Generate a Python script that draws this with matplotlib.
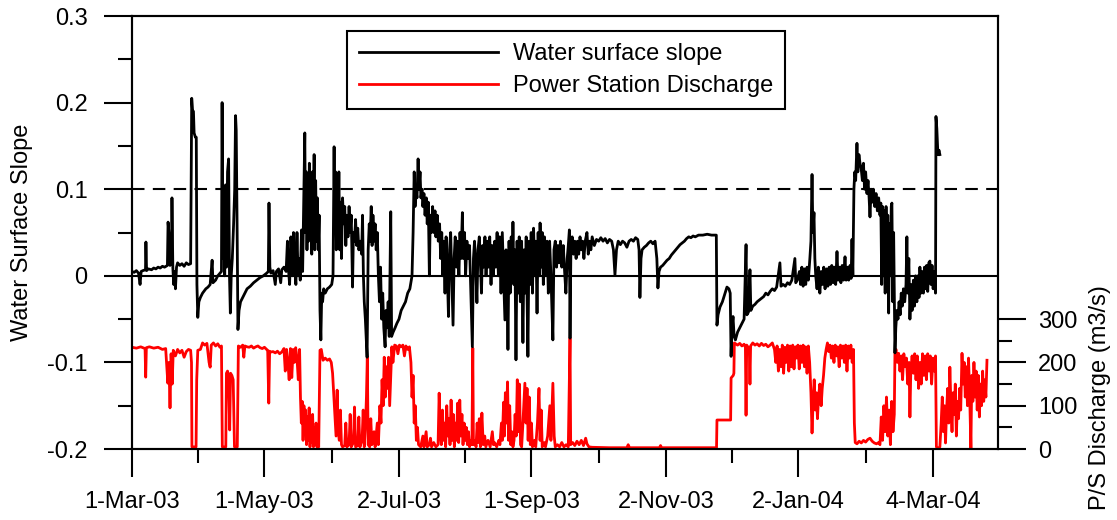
import numpy as np
import matplotlib
matplotlib.use("Agg")
import matplotlib.pyplot as plt
import matplotlib.dates as mdates
from matplotlib.ticker import FixedLocator

plt.rcParams['font.family'] = ['Liberation Sans', 'DejaVu Sans']

start = np.datetime64('2003-03-01')

# water surface slope: (days after 1-Mar-03, slope)
slope_pts = [
    (0, 0.005), (1, 0.004), (2, 0.006), (3, 0.003), (3.7, -0.01), (4.2, 0.005), (5, 0.006), (6.2, 0.007),
    (6.4, 0.039), (6.7, 0.006), (7.5, 0.008), (9, 0.007), (10, 0.009), (11, 0.008), (12, 0.01), (13, 0.009),
    (14, 0.011), (15, 0.01), (16.3, 0.012), (16.6, 0.062), (17, 0.05), (17.5, 0.012), (18.2, 0.02), (18.4, 0.09),
    (18.8, 0.01), (19.2, -0.01), (19.6, 0.005), (20, -0.015), (20.5, 0.01), (21, 0.015), (22, 0.012), (23, 0.014),
    (24, 0.011), (25, 0.015), (26, 0.013), (27, 0.014), (27.5, 0.205), (27.9, 0.19), (28.3, 0.19), (28.6, 0.165),
    (29.2, 0.16), (29.6, 0.16), (29.9, -0.01), (30.3, -0.048), (30.8, -0.03), (31.5, -0.025), (32.5, -0.02),
    (34, -0.015), (35, -0.013), (36, -0.01), (36.9, 0.018), (37.3, -0.008), (38.5, -0.005), (39.5, 0.0),
    (40.5, 0.003), (41.2, 0.005), (41.5, 0.2), (41.9, 0.02), (42.3, 0.07), (42.7, 0.0), (43.1, 0.105),
    (43.5, 0.01), (44.0, 0.12), (44.5, 0.135), (44.9, 0.0), (45.3, -0.043), (45.7, 0.0), (46.2, 0.02),
    (46.8, 0.06), (47.3, 0.1), (47.7, 0.185), (48.0, 0.168), (48.4, 0.06), (48.8, -0.062), (49.3, -0.04),
    (50, -0.03), (51, -0.025), (52, -0.02), (53, -0.015), (54.5, -0.012), (56, -0.008), (57.5, -0.005),
    (59, -0.002), (60.5, 0.0), (62, 0.003), (62.8, 0.005), (63.1, 0.084), (63.5, 0.01), (64, 0.003),
    (65, 0.006), (66, -0.01), (66.5, 0.005), (67.5, 0.008), (68.5, -0.008), (69, 0.007), (70, 0.01),
    (71, 0.005), (71.6, 0.04), (72, 0.01), (72.6, -0.01), (73.2, 0.045), (73.8, 0.0), (74.4, 0.05),
    (75, 0.005), (75.5, -0.01), (76, 0.05), (76.5, 0.0), (77, 0.02), (77.5, -0.005), (78.1, 0.053),
    (78.6, 0.005), (79.2, 0.1), (79.6, 0.165), (79.9, 0.05), (80.3, 0.12), (80.6, 0.03), (81, 0.11),
    (81.3, 0.04), (81.7, 0.13), (82, 0.06), (82.4, 0.1), (82.8, 0.025), (83.1, 0.12), (83.5, 0.05),
    (83.9, 0.14), (84.2, 0.03), (84.6, 0.11), (85, 0.04), (85.4, 0.09), (85.8, 0.03), (86.2, 0.07),
    (86.6, -0.04), (87, -0.074), (87.4, -0.02), (87.8, -0.03), (88.3, -0.015), (89, -0.02), (90, -0.015),
    (91, -0.013), (92, -0.01), (92.6, 0.0), (93.1, 0.149), (93.4, 0.05), (93.8, 0.12), (94.1, 0.03),
    (94.5, 0.1), (94.9, 0.04), (95.3, 0.12), (95.7, 0.03), (96.1, 0.085), (96.5, 0.02), (97, 0.09),
    (97.5, 0.06), (98, 0.08), (98.5, 0.035), (99, 0.07), (99.5, 0.045), (100, 0.08), (100.5, 0.05),
    (101, 0.07), (101.6, -0.013), (102, 0.05), (102.5, 0.04), (103, 0.065), (103.5, 0.035), (104, 0.055),
    (104.5, 0.03), (105.2, 0.04), (105.8, 0.025), (106.2, 0.07), (106.6, 0.0), (107, -0.03), (107.5, -0.05),
    (108.3, -0.094), (108.8, 0.03), (109.3, 0.06), (109.7, 0.04), (110.2, 0.08), (110.6, 0.035), (111, 0.07),
    (111.5, 0.04), (112, 0.06), (112.5, 0.03), (113, 0.05), (113.5, 0.0), (114, -0.03), (114.5, 0.01),
    (115, -0.05), (115.5, -0.02), (116, -0.06), (116.6, -0.082), (117, -0.04), (117.5, -0.06), (118, -0.03),
    (118.5, -0.07), (119.2, 0.074), (119.6, -0.07), (120.3, -0.065), (121.2, -0.06), (122, -0.055),
    (123, -0.05), (124, -0.04), (125, -0.035), (126, -0.03), (127, -0.02), (128, -0.015), (129, 0.0),
    (129.5, 0.05), (130, 0.12), (130.4, 0.08), (130.8, 0.1), (131.3, 0.09), (131.8, 0.135), (132.2, 0.1),
    (132.7, 0.12), (133.1, 0.09), (133.6, 0.1), (134, 0.08), (134.5, 0.095), (135, 0.07), (135.6, 0.09),
    (136, 0.06), (136.5, 0.085), (137, 0.0), (137.4, 0.07), (137.9, 0.05), (138.5, 0.08), (139, 0.05),
    (139.6, 0.075), (140, 0.045), (140.6, 0.07), (141.1, 0.04), (141.7, 0.06), (142.2, 0.02), (142.7, 0.05),
    (143.2, 0.0), (143.6, 0.04), (144.2, -0.02), (144.7, 0.045), (145.2, 0.01), (145.8, -0.047), (146.3, 0.03),
    (146.8, 0.05), (147.3, 0.0), (147.9, -0.057), (148.4, 0.02), (148.9, 0.045), (149.5, 0.01), (150, 0.04),
    (150.6, 0.0), (151.1, 0.05), (151.6, 0.02), (152.2, 0.073), (152.6, 0.02), (153.2, 0.05), (153.7, 0.0),
    (154.3, 0.04), (154.9, 0.02), (155.5, 0.035), (156.2, -0.03), (156.8, -0.082), (157.3, 0.02), (157.8, 0.04),
    (158.3, 0.015), (158.9, -0.031), (159.4, 0.03), (160, 0.045), (160.5, 0.015), (161, -0.02), (161.5, 0.035),
    (162, 0.01), (162.6, 0.045), (163.1, 0.0), (163.7, 0.04), (164.2, 0.01), (164.8, 0.045), (165.4, -0.01),
    (165.9, 0.035), (166.5, 0.0), (167.1, 0.04), (167.6, 0.01), (168.2, 0.05), (168.8, 0.0), (169.4, 0.045),
    (170, -0.02), (170.6, 0.05), (171.2, 0.0), (171.8, -0.051), (172.3, 0.03), (172.8, 0.0), (173.2, -0.085),
    (173.7, 0.04), (174.2, -0.02), (174.7, 0.045), (175.2, 0.0), (175.5, 0.062), (175.9, -0.01), (176.4, 0.03),
    (176.9, -0.097), (177.4, 0.04), (177.9, -0.02), (178.4, 0.045), (178.9, -0.03), (179.5, 0.04),
    (180.1, -0.077), (180.6, 0.03), (181.1, -0.02), (181.6, 0.045), (182.4, -0.093), (182.9, 0.04),
    (183.4, -0.01), (183.9, 0.05), (184.5, -0.02), (185, 0.055), (185.6, 0.0), (186.1, 0.04), (186.6, -0.043),
    (187.1, 0.05), (187.6, 0.0), (188, 0.061), (188.5, 0.01), (189, 0.05), (189.5, -0.01), (190, 0.045),
    (190.6, 0.0), (191.2, 0.04), (191.8, -0.02), (192.4, 0.04), (193, 0.0), (193.9, -0.074), (194.4, 0.03),
    (195, 0.04), (195.6, 0.01), (196.2, 0.035), (196.8, 0.015), (197.4, 0.04), (198, 0.01), (198.7, 0.035),
    (199.3, 0.005), (199.9, -0.02), (200.5, 0.02), (201, 0.035), (201.5, 0.053), (201.8, -0.072), (202.2, 0.03),
    (202.8, 0.045), (203.4, 0.025), (204, 0.04), (204.6, 0.02), (205.2, 0.04), (205.8, 0.025), (206.4, 0.045),
    (207, 0.03), (207.6, 0.04), (208.2, 0.02), (208.8, 0.04), (209.6, 0.05), (210.2, 0.025), (210.8, 0.04),
    (211.4, 0.03), (212, 0.045), (213, 0.035), (214, 0.042), (215, 0.04), (216, 0.044), (217, 0.04),
    (218, 0.043), (219, 0.038), (220, 0.042), (221, 0.04), (221.8, 0.03), (222.5, 0.001), (223.2, 0.03),
    (224, 0.04), (225, 0.036), (226, 0.04), (227, 0.038), (228, 0.033), (229, 0.04), (230, 0.042), (231, 0.04),
    (232, 0.044), (233, 0.042), (233.6, 0.03), (234, -0.025), (234.5, 0.02), (235, 0.03), (236, 0.033),
    (237, 0.035), (238, 0.038), (239, 0.04), (240, 0.037), (241, 0.04), (241.8, 0.02), (242.3, -0.014),
    (242.8, 0.005), (243.5, 0.01), (244.5, 0.012), (245.5, 0.015), (246.5, 0.018), (247.5, 0.02),
    (248.5, 0.024), (249.5, 0.027), (250.5, 0.03), (251.5, 0.033), (252.5, 0.036), (253.5, 0.038),
    (254.5, 0.04), (255.5, 0.043), (256.5, 0.045), (257.5, 0.044), (258.5, 0.046), (259.5, 0.045),
    (261, 0.047), (263, 0.047), (265, 0.048), (267, 0.047), (269.2, 0.047), (269.5, -0.057), (270, -0.045),
    (270.9, -0.036), (272, -0.03), (273, -0.022), (274.1, -0.013), (275, -0.015), (275.6, -0.02),
    (276, -0.093), (276.4, -0.06), (276.9, -0.047), (277.4, -0.07), (278, -0.074), (279, -0.065), (280, -0.06),
    (281, -0.055), (282, -0.05), (282.9, 0.036), (283.3, -0.045), (284, -0.042), (284.7, 0.007), (285.1, -0.04),
    (286, -0.035), (287, -0.033), (288, -0.03), (289, -0.028), (290, -0.026), (291, -0.024), (292, -0.02),
    (293, -0.022), (294, -0.018), (295, -0.015), (296, -0.017), (297, -0.013), (298.5, 0.015), (299, -0.012),
    (300, -0.01), (301, -0.012), (302, -0.008), (303, -0.01), (304, -0.005), (305.4, 0.02), (305.8, -0.008),
    (306.5, -0.005), (307.5, 0.005), (308, -0.01), (308.6, 0.01), (309.2, -0.012), (309.8, 0.008),
    (310.4, -0.01), (311, 0.01), (311.6, -0.005), (312.3, 0.02), (312.8, 0.04), (313.3, 0.117), (313.7, 0.05),
    (314.2, 0.073), (314.6, 0.02), (315, 0.0), (315.6, -0.015), (316.2, 0.01), (316.9, -0.02), (317.5, 0.005),
    (318.1, -0.01), (318.7, 0.01), (319.3, -0.015), (320, 0.008), (320.6, -0.012), (321.2, 0.01),
    (321.8, -0.01), (322.4, 0.012), (323, -0.008), (323.6, 0.01), (324.2, -0.01), (324.8, 0.028),
    (325.3, -0.005), (326, 0.01), (326.6, -0.008), (327.2, 0.012), (327.8, -0.005), (328.5, 0.022),
    (329, -0.005), (329.6, 0.01), (330.2, -0.005), (330.8, 0.012), (331.3, -0.003), (331.7, 0.042),
    (332.1, 0.0), (332.6, 0.1), (333, 0.12), (333.4, 0.11), (334, 0.153), (334.4, 0.12), (334.9, 0.14),
    (335.4, 0.13), (335.9, 0.125), (336.5, 0.11), (337, 0.13), (337.5, 0.1), (338, 0.12), (338.6, 0.095),
    (339.1, 0.11), (339.6, 0.09), (340, 0.068), (340.5, 0.1), (341, 0.085), (341.6, 0.1), (342.2, 0.08),
    (342.8, 0.095), (343.4, 0.075), (344, 0.09), (344.6, 0.07), (345, 0.084), (345.4, -0.01), (345.8, 0.08),
    (346.2, 0.0), (346.6, 0.075), (347, -0.02), (347.4, 0.08), (347.8, 0.01), (348.2, 0.07), (348.6, -0.043),
    (349, 0.06), (349.4, 0.0), (349.8, 0.08), (350.1, 0.084), (350.5, -0.03), (350.9, 0.05), (351.5, -0.089),
    (351.9, -0.06), (352.4, -0.04), (352.9, -0.05), (353.4, -0.03), (353.9, -0.045), (354.4, -0.02),
    (354.9, -0.035), (355.4, -0.015), (356, -0.03), (356.6, -0.01), (357, 0.045), (357.4, -0.02),
    (357.9, 0.02), (358.4, -0.05), (358.9, -0.01), (359.4, -0.04), (360, -0.005), (360.5, -0.035),
    (361, 0.0), (361.6, -0.03), (362.1, 0.0), (362.6, -0.025), (363, 0.01), (363.5, -0.02), (364, 0.005),
    (364.6, -0.02), (365.1, 0.01), (365.6, -0.015), (366.1, 0.012), (366.6, -0.018), (367.1, 0.015),
    (367.6, 0.017), (368.1, -0.01), (368.6, 0.012), (369.1, -0.015), (369.6, 0.005), (370.2, -0.02),
    (370.4, 0.184), (370.8, 0.17), (371.3, 0.14), (371.8, 0.145), (372.2, 0.14),
]

# power station discharge, m3/s: (days after 1-Mar-03, flow)
flow_pts = [
    (0, 235), (2, 233), (4, 236), (6, 232), (6.3, 166), (6.6, 234), (8, 236), (10, 233), (12, 235), (14, 230),
    (15.5, 232), (16, 190), (16.5, 152), (17, 200), (17.5, 95), (18, 220), (18.5, 150), (19, 228), (20, 215),
    (21, 230), (22, 222), (23, 228), (24, 212), (25, 225), (26, 230), (27, 228), (27.4, 200), (27.6, 5),
    (29.5, 5), (29.8, 160), (30.3, 228), (31.5, 230), (32.5, 245), (33.5, 240), (34.5, 244), (35.5, 200),
    (36, 189), (36.5, 240), (37.5, 245), (38.5, 238), (39.5, 243), (40.5, 235), (41.2, 238), (41.6, 5),
    (43.2, 5), (43.5, 175), (44, 180), (44.5, 165), (45, 44), (45.4, 175), (46, 170), (46.6, 160), (47.2, 5),
    (48.5, 5), (49, 238), (50, 235), (51, 240), (51.5, 212), (52, 238), (53, 236), (54, 235), (55, 238),
    (56, 233), (57, 236), (58, 238), (59, 234), (60, 232), (61, 235), (62, 230), (62.5, 228), (63, 106),
    (63.4, 226), (64, 224), (65, 225), (66, 222), (67, 226), (68, 220), (69, 224), (70, 232), (70.6, 180),
    (71.2, 230), (71.8, 200), (72.4, 160), (73, 232), (73.6, 165), (74.2, 230), (74.8, 200), (75.4, 234),
    (76, 210), (76.6, 160), (77.2, 230), (77.6, 120), (78, 60), (78.4, 110), (78.8, 20), (79.2, 100),
    (79.6, 40), (80, 90), (80.4, 10), (80.8, 75), (81.2, 20), (81.6, 95), (82, 5), (82.4, 60), (82.8, 15),
    (83.2, 80), (83.6, 5), (84, 50), (84.4, 10), (84.8, 60), (85.2, 5), (85.6, 40), (86, 5), (86.6, 228),
    (87.2, 230), (88, 205), (89, 210), (90, 205), (91, 208), (91.8, 200), (92.4, 175), (93, 120), (93.5, 78),
    (94, 30), (94.5, 136), (95, 40), (95.5, 20), (96, 90), (96.5, 10), (97, 5), (98, 8), (98.5, 60), (99, 5),
    (100, 10), (100.5, 80), (101, 5), (102, 15), (102.5, 97), (103, 5), (104, 8), (104.5, 74), (105, 5),
    (106, 20), (106.5, 90), (107, 5), (107.6, 60), (108, 120), (108.4, 212), (108.8, 10), (109.5, 5),
    (110, 70), (110.5, 10), (111.5, 40), (112, 5), (113, 60), (113.5, 10), (114.2, 100), (114.7, 60),
    (115.2, 160), (115.7, 100), (116.2, 212), (116.7, 120), (117.2, 190), (117.7, 140), (118.2, 212),
    (118.7, 100), (119.2, 170), (119.7, 236), (120.2, 200), (121, 240), (121.8, 238), (122.5, 220),
    (123.2, 240), (124, 236), (124.8, 240), (125.5, 215), (126.2, 238), (127, 230), (127.8, 236),
    (128.5, 200), (129, 120), (129.5, 170), (130, 60), (130.5, 100), (131, 20), (131.5, 50), (132, 10),
    (133, 5), (134, 30), (134.5, 5), (135.5, 40), (136, 5), (137, 10), (137.5, 25), (138, 5), (139, 15),
    (140, 5), (141, 10), (141.5, 129), (142, 40), (142.5, 10), (143, 90), (143.5, 20), (144, 60), (144.5, 5),
    (145, 100), (145.5, 30), (146, 70), (146.5, 10), (147, 113), (147.5, 20), (148, 80), (148.5, 5),
    (149, 60), (149.5, 20), (150, 106), (150.5, 15), (151, 113), (151.5, 30), (152, 80), (152.5, 10),
    (153, 60), (153.5, 20), (154, 50), (154.5, 10), (155, 40), (155.5, 5), (156, 20), (156.6, 10),
    (157, 233), (157.3, 10), (158, 20), (158.5, 5), (159, 60), (159.5, 15), (160, 70), (160.5, 5),
    (161.2, 83), (161.8, 10), (162.5, 30), (163, 5), (164, 20), (165, 5), (166, 40), (166.5, 10), (167, 15),
    (168, 5), (169, 20), (169.5, 10), (170.2, 60), (170.6, 20), (171.2, 108), (171.6, 30), (172, 130),
    (172.5, 60), (173, 155), (173.5, 20), (174, 100), (174.5, 10), (175, 40), (175.5, 5), (176, 20),
    (176.5, 80), (177, 30), (177.5, 160), (178, 40), (178.5, 150), (179, 10), (179.5, 5), (180, 50),
    (180.5, 100), (181, 152), (181.5, 60), (182, 140), (182.5, 20), (183, 120), (183.5, 10), (184, 60),
    (184.5, 5), (185.5, 20), (186, 5), (186.8, 60), (187.5, 140), (188, 20), (188.5, 90), (189, 5),
    (190, 15), (190.5, 5), (191.5, 30), (192.5, 100), (193, 20), (193.9, 152), (194.5, 30), (195, 5),
    (196, 10), (197, 5), (198, 15), (199, 5), (200, 10), (201, 5), (201.8, 256), (202.1, 10), (203, 15),
    (204, 8), (205, 18), (206, 10), (207, 20), (208, 8), (209, 25), (209.6, 12), (210.5, 5), (212, 4),
    (220, 3), (228, 3), (228.6, 10), (229.2, 3), (240, 3), (243, 3), (243.5, 8), (244, 3), (260, 3),
    (269.3, 3), (269.5, 67), (275.8, 67), (276, 164), (277, 170), (277.3, 175), (277.5, 245), (279, 240),
    (280, 244), (281, 238), (282, 242), (282.6, 235), (282.9, 78), (283.2, 240), (284.4, 230), (284.7, 150),
    (285, 238), (286, 245), (287, 240), (288, 243), (289, 238), (290, 244), (291, 239), (292, 242),
    (293, 236), (294, 240), (295, 245), (296, 230), (296.6, 200), (297.2, 238), (297.8, 180), (298.4, 230),
    (299, 190), (299.6, 240), (300.2, 175), (300.8, 235), (301.4, 200), (302, 240), (302.6, 180),
    (303.2, 238), (303.8, 190), (304.4, 240), (305, 185), (305.6, 236), (306.2, 210), (306.8, 240),
    (307.4, 185), (308, 238), (308.6, 200), (309.2, 240), (309.8, 190), (310.4, 236), (311, 175),
    (311.6, 238), (312.2, 200), (312.8, 130), (313.3, 37), (313.8, 110), (314.3, 160), (314.8, 90),
    (315.3, 130), (315.8, 70), (316.3, 120), (316.9, 150), (317.5, 100), (318, 140), (318.6, 170),
    (319.2, 210), (319.8, 230), (320.4, 245), (321, 225), (321.6, 240), (322.2, 210), (322.8, 238),
    (323.4, 200), (324, 240), (324.6, 215), (325.2, 236), (325.8, 190), (326.4, 240), (327, 210),
    (327.6, 238), (328.2, 200), (328.8, 240), (329.4, 180), (330, 238), (330.6, 210), (331.2, 240),
    (331.8, 200), (332.4, 230), (332.8, 60), (333.2, 15), (334, 12), (335, 18), (336, 14), (337, 20),
    (338, 16), (339, 22), (340, 25), (341, 18), (342, 14), (343, 12), (344, 15), (344.6, 10), (345.2, 74),
    (345.8, 20), (346.4, 100), (347, 40), (347.6, 120), (348.2, 30), (348.8, 90), (349.4, 10), (350, 110),
    (350.6, 40), (351.2, 80), (351.5, 221), (352, 230), (352.6, 200), (353.2, 221), (353.8, 180),
    (354.4, 215), (355, 160), (355.6, 220), (356.2, 190), (356.8, 210), (357.4, 150), (358, 200),
    (358.4, 74), (358.8, 180), (359.4, 215), (360, 175), (360.6, 220), (361.2, 160), (361.8, 215),
    (362.4, 140), (363, 200), (363.6, 150), (364.2, 220), (364.8, 170), (365.4, 215), (366, 160),
    (366.6, 220), (367.2, 180), (367.8, 215), (368.4, 150), (369, 210), (369.6, 180), (370.2, 215),
    (370.6, 5), (371.4, 2), (372.2, 5), (372.8, 60), (373.3, 120), (373.8, 40), (374.3, 100), (374.8, 14),
    (375.3, 90), (375.8, 140), (376.3, 60), (376.8, 189), (377.3, 100), (377.8, 40), (378.3, 130),
    (378.8, 80), (379.3, 150), (379.8, 30), (380.3, 110), (380.8, 70), (381.3, 140), (381.8, 90),
    (382.4, 221), (382.9, 150), (383.4, 200), (383.9, 120), (384.4, 190), (384.9, 100), (385.4, 210),
    (385.9, 130), (386.5, 2), (386.9, 170), (387.4, 110), (387.9, 200), (388.4, 120), (388.9, 180),
    (389.4, 90), (389.9, 170), (390.4, 74), (390.9, 150), (391.4, 100), (391.9, 180), (392.4, 110),
    (392.9, 160), (393.4, 120), (393.9, 205),
]

tick_dates = ['2003-03-01', '2003-05-01', '2003-07-02', '2003-09-01', '2003-11-02', '2004-01-02', '2004-03-04']
slope_threshold = 0.1

t0 = mdates.date2num(start)
slope_day, slope = np.array(slope_pts).T
flow_day, flow = np.array(flow_pts).T

fig = plt.figure(figsize=(11.17, 5.2), dpi=100)
ax = fig.add_axes([0.1182, 0.1365, 0.7753, 0.8327])
ax2 = ax.twinx()

l1, = ax.plot(t0 + slope_day, slope, color='black', lw=2.0, label='Water surface slope')
l2, = ax2.plot(t0 + flow_day, flow, color='red', lw=2.0, label='Power Station Discharge')
ax.axhline(0, color='black', lw=1.5)
ax.axhline(slope_threshold, color='black', lw=1.5, ls=(0, (6, 4)))

# slope on top of the discharge trace
ax.set_zorder(ax2.get_zorder() + 1)
ax.patch.set_visible(False)

ax.set_xlim(t0, t0 + 399)
ax.set_ylim(-0.2, 0.3)
ax2.set_ylim(0, 1000)

major = [mdates.date2num(np.datetime64(d)) for d in tick_dates]
ax.xaxis.set_major_locator(FixedLocator(major))
ax.xaxis.set_minor_locator(FixedLocator([(a + b) / 2 for a, b in zip(major[:-1], major[1:])]))
ax.xaxis.set_major_formatter(mdates.DateFormatter('%-d-%b-%y'))

ax.set_yticks([-0.2, -0.1, 0, 0.1, 0.2, 0.3])
ax.set_yticklabels(['-0.2', '-0.1', '0', '0.1', '0.2', '0.3'])
ax.set_yticks([-0.15, -0.05, 0.05, 0.15, 0.25], minor=True)
ax2.set_yticks([0, 100, 200, 300])
ax2.set_yticks([50, 150, 250], minor=True)

for a in (ax, ax2):
    a.tick_params(which='major', direction='out', length=20, width=1.5, labelsize=17, color='black')
    a.tick_params(which='minor', direction='out', length=10, width=1.5)
    for s in a.spines.values():
        s.set_linewidth(1.5)
ax.tick_params(axis='y', which='both', right=False, pad=12)
ax.tick_params(axis='x', which='both', top=False, pad=10)
ax2.tick_params(axis='y', which='both', pad=9)

ax.set_ylabel('Water Surface Slope', fontsize=17, labelpad=10)
fig.text(0.985, 0.235, 'P/S Discharge (m3/s)', rotation=90, fontsize=17, ha='center', va='center')

leg = ax.legend(handles=[l1, l2], loc='upper left', bbox_to_anchor=(0.248, 0.965), fontsize=17,
                frameon=True, fancybox=False, edgecolor='black', framealpha=1, handlelength=5.9,
                handletextpad=0.65, labelspacing=0.42, borderpad=0.5, borderaxespad=0)
leg.get_frame().set_linewidth(1.5)

fig.savefig('out.png', dpi=100)
